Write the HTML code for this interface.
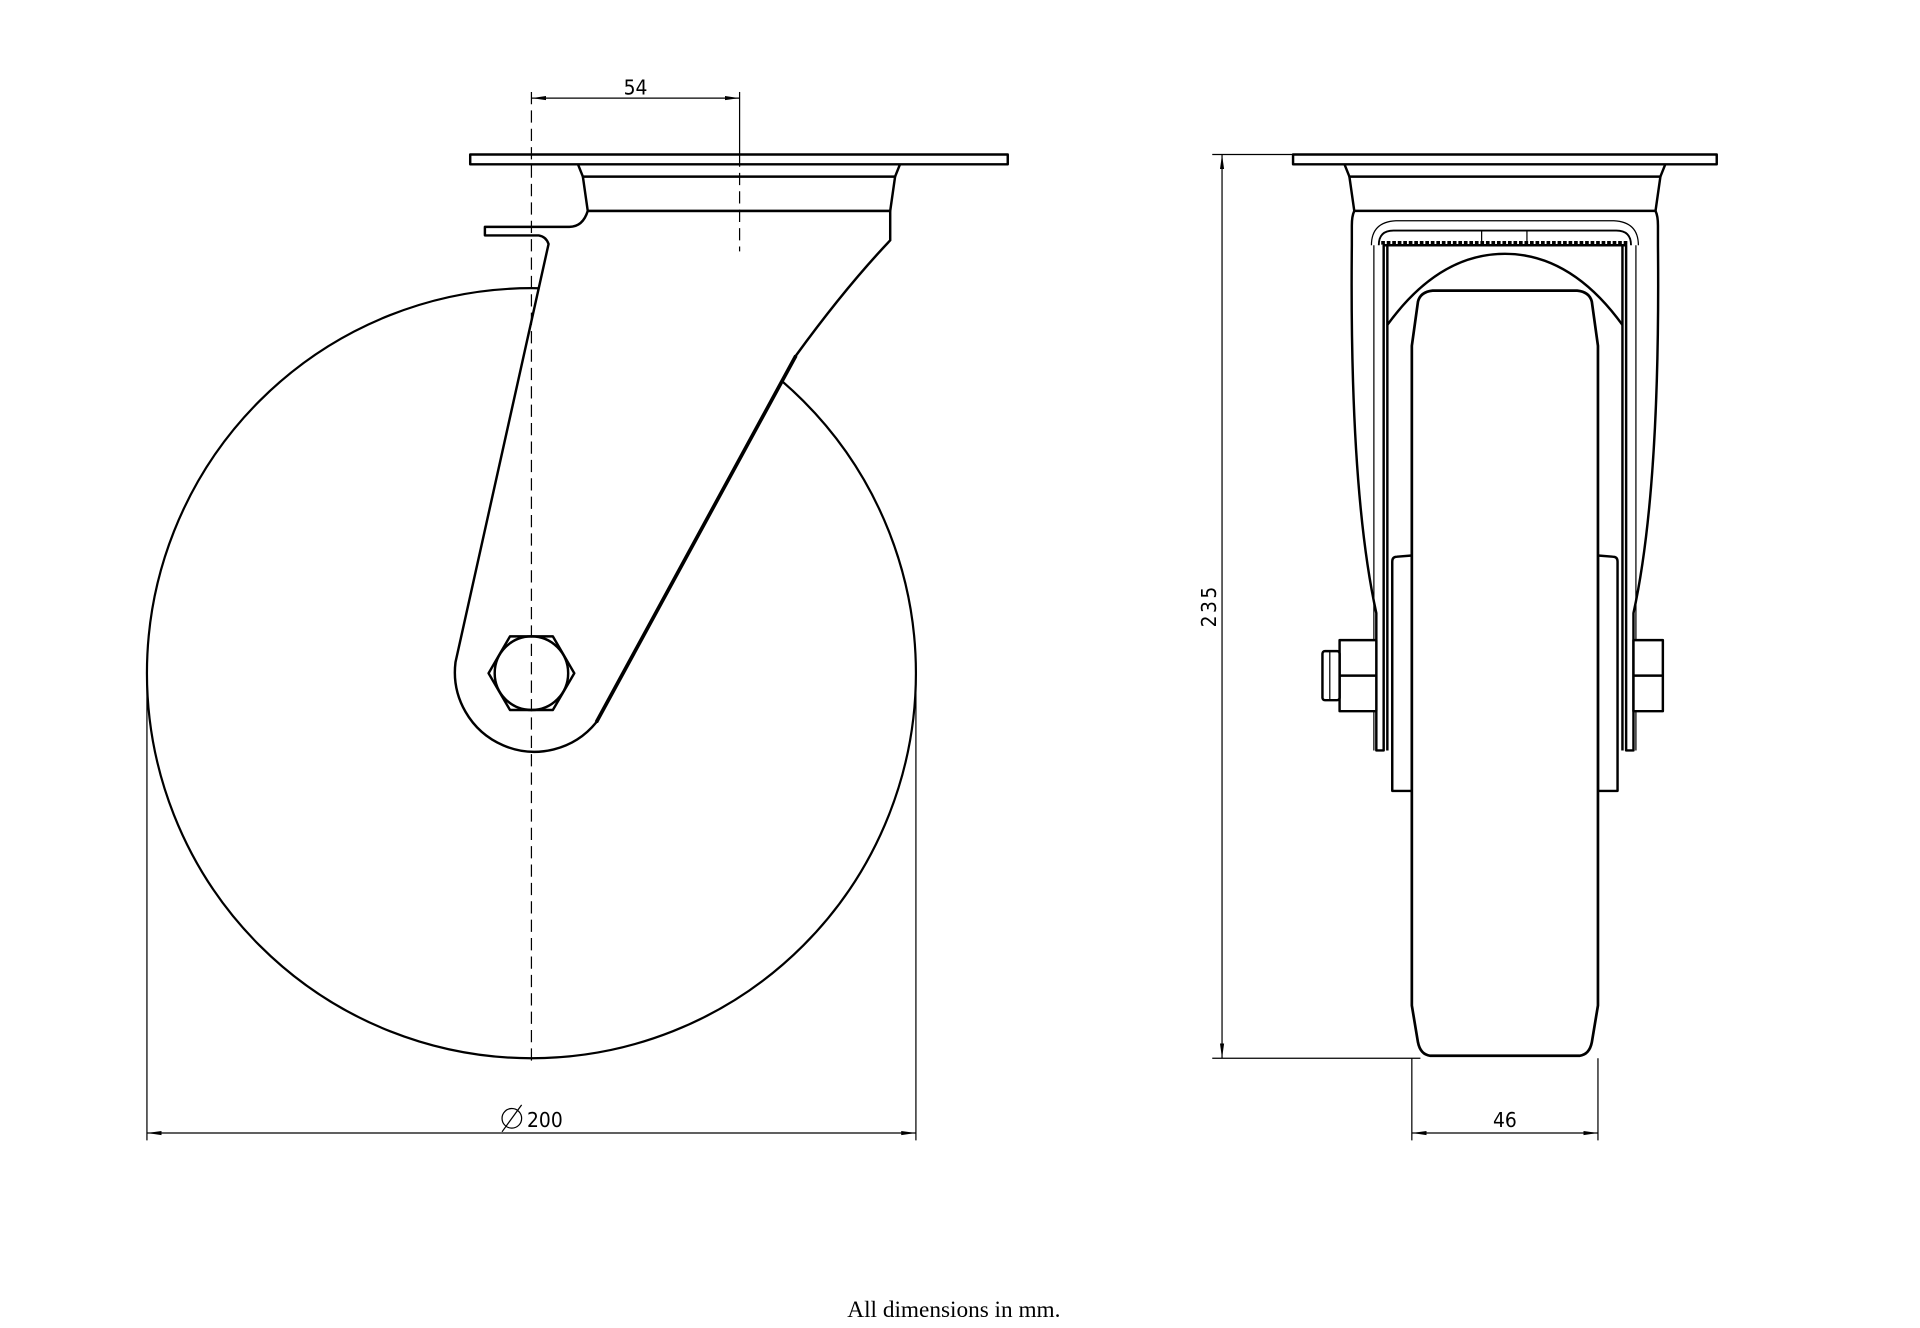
<!DOCTYPE html>
<html><head><meta charset="utf-8"><style>
html,body{margin:0;padding:0;background:#fff;width:1920px;height:1328px;overflow:hidden}
svg{display:block}
text{font-family:"DejaVu Sans Condensed","Liberation Sans",sans-serif;fill:#000}
</style></head><body>
<svg width="1920" height="1328" viewBox="0 0 1568 1083" preserveAspectRatio="none" xmlns="http://www.w3.org/2000/svg">
<defs>
<marker id="ar" viewBox="0 0 12 6" refX="12" refY="3" markerWidth="12" markerHeight="6" orient="auto-start-reverse" markerUnits="userSpaceOnUse">
<path d="M0,1.3 L12,3 L0,4.7 Z" fill="#000"/></marker>
</defs>
<g fill="none" stroke="#000" stroke-width="2" stroke-linejoin="round">
<!-- LEFT VIEW -->
<circle cx="434" cy="549" r="314" stroke-width="1.8"/>
<path d="M448,199 L372,540 A65,65 0 0 0 487,589 L650,290 Q690,235 727,196 L727,172 L480,172 Q476,185 465,185 L396,185 L396,192 L440,192 Q446,193 448,199 Z" fill="#fff"/>
<path d="M476,144 L480,172 L727,172 L731,144 Z" fill="#fff"/>
<path d="M472,134 L476,144 L731,144 L735,134" fill="#fff"/>
<rect x="384" y="126" width="439" height="8" fill="#fff"/>
<line x1="650" y1="290" x2="487" y2="589" stroke-width="3"/>
<polygon points="399,549 416.5,519 451.5,519 469,549 451.5,579 416.5,579" stroke-width="2"/>
<circle cx="434" cy="549" r="30"/>
</g>
<g stroke="#000" stroke-width="1" fill="none">
<line x1="434" y1="75" x2="434" y2="866" stroke-dasharray="10,5"/>
<line x1="604" y1="75" x2="604" y2="126"/>
<line x1="604" y1="126" x2="604" y2="205" stroke-dasharray="10,5"/>
<line x1="434" y1="80" x2="604" y2="80" marker-start="url(#ar)" marker-end="url(#ar)"/>
<line x1="120" y1="549" x2="120" y2="930"/>
<line x1="748" y1="549" x2="748" y2="930"/>
<line x1="120" y1="924" x2="748" y2="924" marker-start="url(#ar)" marker-end="url(#ar)"/>
<circle cx="418" cy="912" r="8"/>
<line x1="410" y1="923" x2="426" y2="901"/>
</g>
<text x="519" y="77" font-size="17" text-anchor="middle">54</text>
<text x="445" y="919" font-size="17" text-anchor="middle">200</text>

<!-- RIGHT VIEW -->
<g fill="none" stroke="#000" stroke-width="2" stroke-linejoin="round">
<path d="M1106,172 Q1104,176 1104,184 L1104,200 Q1102,400 1124,500 L1124,612 L1130,612 L1130,200 L1328,200 L1328,612 L1334,612 L1334,500 Q1356,400 1354,200 L1354,184 Q1354,176 1352,172" fill="#fff"/>
<line x1="1122" y1="200" x2="1122" y2="612" stroke-width="1"/>
<line x1="1336" y1="200" x2="1336" y2="612" stroke-width="1"/>
<path d="M1120,200 Q1120,181 1140,180 L1318,180 Q1338,181 1338,200" stroke-width="1"/>
<path d="M1126,200 Q1126,188 1138,188 L1320,188 Q1332,188 1332,200" stroke-width="1.5"/>
<line x1="1128" y1="198" x2="1330" y2="198" stroke-width="3" stroke-dasharray="3,1.5"/>
<line x1="1210" y1="188" x2="1210" y2="198" stroke-width="1"/>
<line x1="1247" y1="188" x2="1247" y2="198" stroke-width="1"/>
<line x1="1133" y1="200" x2="1133" y2="612" stroke-width="2"/>
<line x1="1325" y1="200" x2="1325" y2="612" stroke-width="2"/>
<path d="M1133,265 Q1175,207 1229,207 Q1283,207 1325,265" stroke-width="2"/>
<path d="M1137,645 L1137,458 Q1137,454 1141,454 L1153,453 L1153,645 Z" fill="#fff"/>
<path d="M1321,645 L1321,458 Q1321,454 1317,454 L1305,453 L1305,645 Z" fill="#fff"/>
<path d="M1153,282 L1158,246 Q1160,238 1170,237 L1288,237 Q1298,238 1300,246 L1305,282 L1305,820 L1300,850 Q1298,860 1290,861 L1168,861 Q1160,860 1158,850 L1153,820 Z" fill="#fff" stroke-width="2.2"/>
<rect x="1094" y="522" width="30" height="58" fill="#fff"/>
<line x1="1094" y1="551" x2="1124" y2="551"/>
<rect x="1080" y="531" width="14" height="40" rx="2" fill="#fff"/>
<line x1="1086" y1="531" x2="1086" y2="571" stroke-width="1"/>
<rect x="1334" y="522" width="24" height="58" fill="#fff"/>
<line x1="1334" y1="551" x2="1358" y2="551"/>
<path d="M1102,144 L1106,172 L1352,172 L1356,144 Z" fill="#fff"/>
<path d="M1098,134 L1102,144 L1356,144 L1360,134" fill="#fff"/>
<rect x="1056" y="126" width="346" height="8" fill="#fff"/>
</g>
<g stroke="#000" stroke-width="1" fill="none">
<line x1="990" y1="126" x2="1056" y2="126"/>
<line x1="990" y1="863" x2="1160" y2="863"/>
<line x1="998" y1="126" x2="998" y2="863" marker-start="url(#ar)" marker-end="url(#ar)"/>
<line x1="1153" y1="863" x2="1153" y2="930"/>
<line x1="1305" y1="863" x2="1305" y2="930"/>
<line x1="1153" y1="924" x2="1305" y2="924" marker-start="url(#ar)" marker-end="url(#ar)"/>
</g>
<text x="1229" y="919" font-size="17" text-anchor="middle">46</text>
<text x="0" y="0" font-size="17" text-anchor="middle" transform="translate(993,494) rotate(-90)" letter-spacing="2">235</text>
<text x="779" y="1074" font-size="19" text-anchor="middle" style="font-family:'Liberation Serif',serif">All dimensions in mm.</text>
</svg>
</body></html>
